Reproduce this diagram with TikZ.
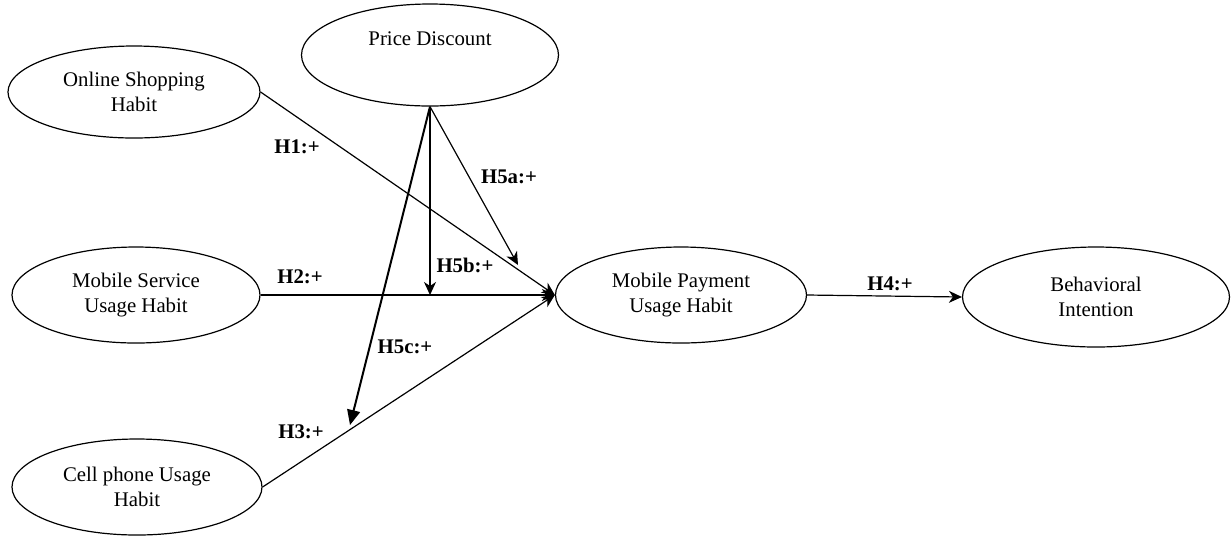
\documentclass[tikz,border=0pt]{standalone}
\usepackage{fontspec}
\setmainfont{Liberation Serif}
\usetikzlibrary{arrows.meta,shapes.geometric,positioning}

\begin{document}
\begin{tikzpicture}[
    x=0.5pt, y=-0.5pt,
    var/.style={draw, ellipse, inner sep=0pt, align=center, font=\fontsize{10.4}{12.5}\selectfont, line width=0.6pt},
    arr/.style={-{Stealth[length=6.5pt, width=6pt, inset=2pt]}, line width=0.6pt},
    mod/.style={-{Triangle[length=7.5pt, width=6.5pt]}, line width=1pt},
    lbl/.style={font=\fontsize{10.4}{12.5}\selectfont\bfseries, inner sep=1pt}
]
\useasboundingbox (0,0) rectangle (1231,538);

\node[var, minimum width=126pt, minimum height=46pt] (osh) at (134,92) {Online Shopping\\Habit};
\node[var, minimum width=128.5pt, minimum height=51pt] (pd) at (430,55) {Price Discount\\\strut};
\node[var, minimum width=124pt, minimum height=48pt] (msu) at (136,295) {Mobile Service\\Usage Habit};
\node[var, minimum width=125pt, minimum height=48pt] (cpu) at (137,487) {Cell phone Usage\\Habit};
\node[var, minimum width=125.5pt, minimum height=48pt] (mpu) at (681,295) {Mobile Payment\\Usage Habit};
\node[var, minimum width=133.5pt, minimum height=50pt] (bi) at (1096,297) {Behavioral\\Intention};

% moderating arrows end on the paths
\coordinate (t5a) at (518,265);
\coordinate (t5b) at (pd.south |- msu.east);
\coordinate (t5c) at (350,425);

\draw[arr] (osh.east) -- (mpu.west);
\draw[arr] (msu.east) -- (mpu.west);
\draw[arr] (cpu.east) -- (mpu.west);
\draw[arr] (mpu.east) -- (bi.west);
\draw[arr] (pd.south) -- (t5a);
\draw[arr] (pd.south) -- (t5b);
\draw[mod] (pd.south) -- (t5c);

\node[lbl] (h1) at (297,147) {H1:+};
\node[lbl] (h2) at (300,277) {H2:+};
\node[lbl] (h3) at (301,432) {H3:+};
\node[lbl] (h4) at (890,284) {H4:+};
\node[lbl] (h5a) at (509,177) {H5a:+};
\node[lbl] (h5b) at (465,265) {H5b:+};
\node[lbl] (h5c) at (405,347) {H5c:+};
\end{tikzpicture}
\end{document}
